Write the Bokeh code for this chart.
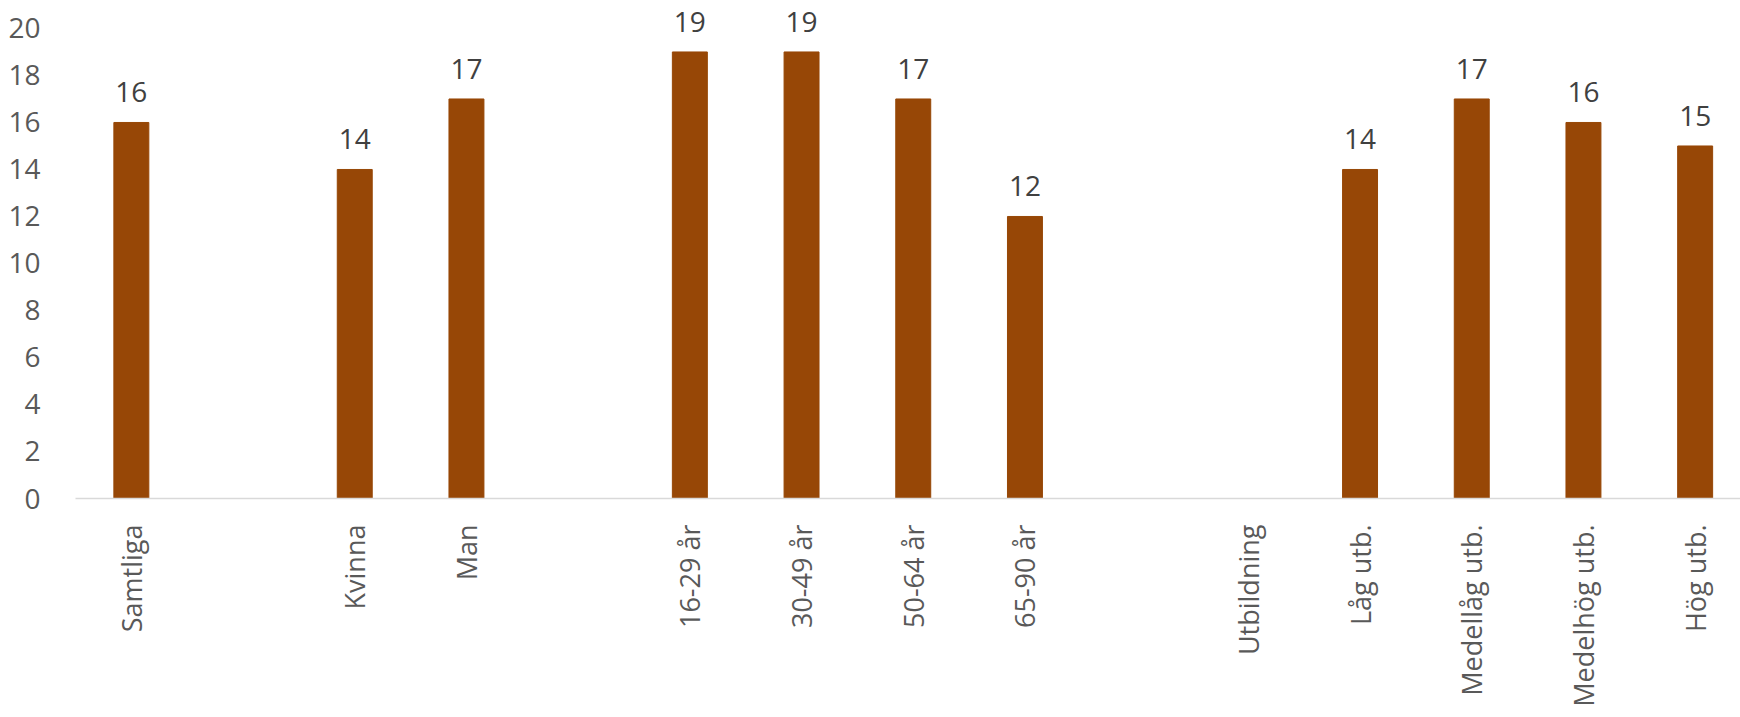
from bokeh.plotting import figure
from bokeh.models import Range1d, FixedTicker, ColumnDataSource, LabelSet
from bokeh.core.properties import value
from bokeh.embed import file_html
from bokeh.resources import INLINE
import math

categories = ["Samtliga", "", "Kvinna", "Man", "", "16-29 år", "30-49 år", "50-64 år",
              "65-90 år", "", "Utbildning", "Låg utb.", "Medellåg utb.", "Medelhög utb.", "Hög utb."]
values = [16, None, 14, 17, None, 19, 19, 17, 12, None, None, 14, 17, 16, 15]
y_ticks = [0, 2, 4, 6, 8, 10, 12, 14, 16, 18, 20]

FONT = "Open Sans"
BAR = "#974706"

xs = [i for i, v in enumerate(values) if v is not None]
vs = [v for v in values if v is not None]
src = ColumnDataSource(dict(x=xs, top=vs, label=[str(v) for v in vs]))

# frame spans the top of the page so that the labels above the tallest bars are not clipped
p = figure(width=1740, height=717, output_backend="svg", toolbar_location=None,
           x_range=Range1d(-0.5, 14.406), y_range=Range1d(0, 21.19),
           min_border_left=75, min_border_right=0, min_border_top=0, min_border_bottom=219)
p.outline_line_color = None
p.xgrid.grid_line_color = None
p.ygrid.grid_line_color = None

p.vbar(x="x", top="top", bottom=0, width=0.313, source=src, fill_color=BAR, line_color=BAR)

labels = LabelSet(x="x", y="top", text="label", source=src, y_offset=30,
                  text_align="center", text_baseline="middle",
                  text_font=value(FONT), text_font_size="28px", text_color="#404040")
p.add_layout(labels)

xa = p.xaxis[0]
xa.ticker = FixedTicker(ticks=list(range(len(categories))))
xa.major_label_overrides = {i: (c if c else " ") for i, c in enumerate(categories)}
xa.major_label_orientation = math.pi / 2
xa.major_label_text_font = FONT
xa.major_label_text_font_size = "27px"
xa.major_label_text_color = "#595959"
xa.major_label_standoff = 20
xa.major_tick_line_color = None
xa.minor_tick_line_color = None
xa.axis_line_color = "#D9D9D9"
xa.axis_line_width = 1.5

ya = p.yaxis[0]
ya.ticker = FixedTicker(ticks=y_ticks)
ya.major_label_text_font = FONT
ya.major_label_text_font_size = "28px"
ya.major_label_text_color = "#595959"
ya.major_label_standoff = 29
ya.major_tick_line_color = None
ya.minor_tick_line_color = None
ya.axis_line_color = None

open("out.html", "w").write(file_html(p, INLINE))
